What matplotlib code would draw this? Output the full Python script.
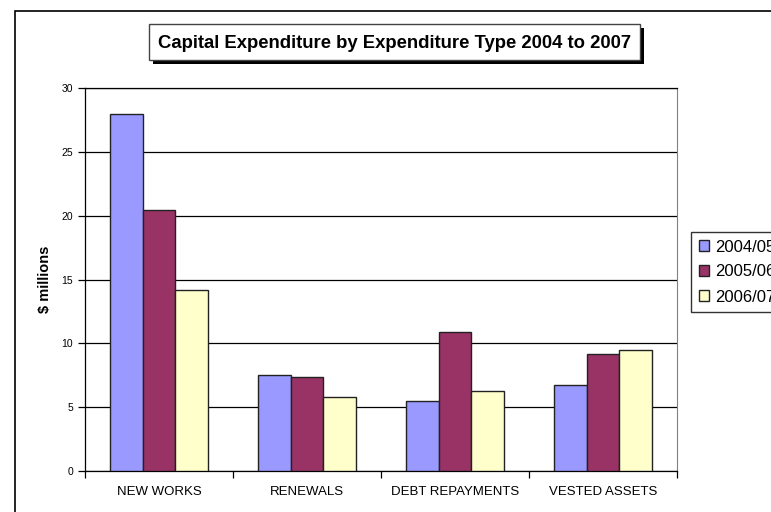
import matplotlib.pyplot as plt
import matplotlib.patches as mpatches
import numpy as np

plt.rcParams['font.family'] = ['Liberation Sans', 'DejaVu Sans']

categories = ['NEW WORKS', 'RENEWALS', 'DEBT REPAYMENTS', 'VESTED ASSETS']
series_names = ['2004/05', '2005/06', '2006/07']
values_0405 = [28.0, 7.55, 5.45, 6.7]
values_0506 = [20.45, 7.35, 10.9, 9.2]
values_0607 = [14.2, 5.8, 6.3, 9.45]
colours = ['#9999ff', '#993366', '#ffffcc']

W, H = 771, 512
fig = plt.figure(figsize=(W / 100, H / 100), dpi=100)

# outer chart frame (runs off the right and bottom edges)
fig.add_artist(mpatches.Rectangle((15 / W, -0.1), 1.2, (H - 11) / H + 0.1,
                                  transform=fig.transFigure, fill=False,
                                  edgecolor='black', linewidth=1.2))

ax = fig.add_axes([85 / W, (H - 471) / H, 592 / W, 383 / H])

x = np.arange(len(categories))
bw = 1 / 4.5
for i, vals in enumerate([values_0405, values_0506, values_0607]):
    ax.bar(x + (i - 1) * bw, vals, bw, color=colours[i], edgecolor='#222222',
           linewidth=1, label=series_names[i], zorder=3)

ax.set_xlim(-0.5, len(categories) - 0.5)
ax.set_ylim(0, 30)
ax.set_yticks(np.arange(0, 31, 5))
ax.yaxis.grid(True, color='black', linewidth=0.9, zorder=0)
ax.tick_params(axis='y', direction='out', length=5, labelsize=7.5, width=0.9)

ax.set_xticks(x)
ax.set_xticklabels(categories, fontsize=9.5)
ax.set_xticks(np.arange(-0.5, len(categories)), minor=True)
ax.tick_params(axis='x', which='major', length=0, pad=11)
ax.tick_params(axis='x', which='minor', direction='out', length=5, width=0.9)

ax.spines['right'].set_color('#808080')
for s in ['left', 'bottom', 'top']:
    ax.spines[s].set_color('black')
    ax.spines[s].set_linewidth(0.9)

ax.set_ylabel('$ millions', fontsize=10.5, fontweight='bold', labelpad=7)

# title box with a drop shadow
bx, by, bwid, bht = 149, 24, 491, 36
fig.add_artist(mpatches.Rectangle(((bx + 4) / W, 1 - (by + bht + 4) / H), bwid / W, bht / H,
                                  transform=fig.transFigure, facecolor='black',
                                  edgecolor='none'))
fig.add_artist(mpatches.Rectangle((bx / W, 1 - (by + bht) / H), bwid / W, bht / H,
                                  transform=fig.transFigure, facecolor='white',
                                  edgecolor='#444444', linewidth=1))
fig.text((bx + bwid / 2) / W, 1 - (by + bht / 2 + 1) / H,
         'Capital Expenditure by Expenditure Type 2004 to 2007',
         ha='center', va='center', fontsize=13.3, fontweight='bold')

leg = fig.legend(loc='upper left', bbox_to_anchor=(691 / W, 1 - 232 / H),
                 fontsize=12, frameon=True, fancybox=False, edgecolor='black',
                 handlelength=0.65, handleheight=0.65, handletextpad=0.35,
                 labelspacing=0.6, borderpad=0.45, borderaxespad=0)
leg.get_frame().set_linewidth(1)

fig.savefig('out.png', dpi=100)
